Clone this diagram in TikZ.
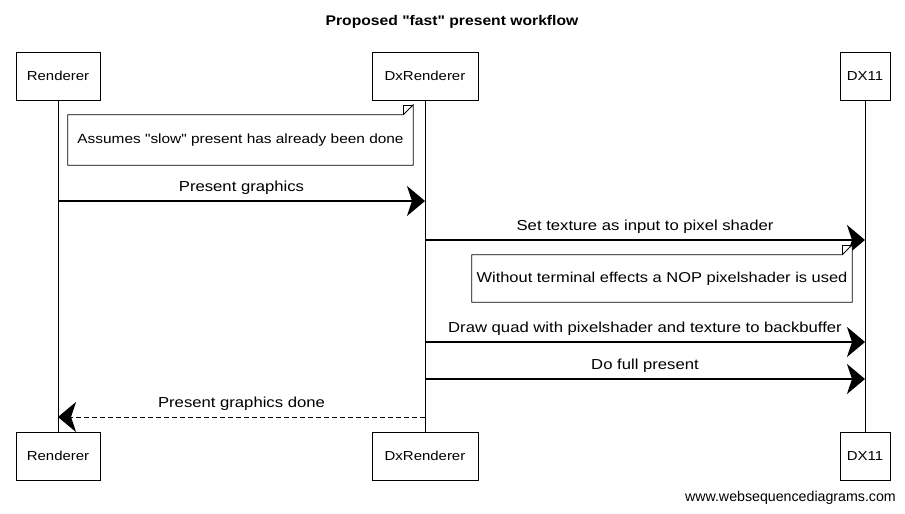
\documentclass[tikz,border=0pt]{standalone}
\usepackage{fontspec}
\setmainfont{Liberation Sans}
\newfontfamily\widefont[FakeStretch=1.15]{Liberation Sans}
\newfontfamily\titlefont[FakeStretch=1.12]{Liberation Sans}
\usetikzlibrary{arrows.meta}
\begin{document}
\begin{tikzpicture}[x=1pt,y=-1pt,
  txt/.style={font=\widefont\fontsize{14.5}{16}\selectfont},
  acttxt/.style={font=\widefont\fontsize{13}{15}\selectfont},
  actor/.style={draw, line width=0.8pt, minimum height=48pt, inner sep=0pt, acttxt},
  lifeline/.style={line width=0.6pt},
  msg/.style={line width=1.1pt, -{Stealth[length=18pt,width=30pt,inset=5pt]}},
  ret/.style={line width=0.9pt, dash pattern=on 5pt off 3pt, -{Stealth[length=18pt,width=30pt,inset=5pt]}},
  lbl/.style={txt, inner sep=0pt},
  notetxt/.style={txt, inner sep=0pt, minimum height=50pt},
  notebox/.style={line width=0.8pt, fill=white}
]
\useasboundingbox (0,0) rectangle (905,514);
\fill[white] (0,0) rectangle (905,514);

\node[font=\titlefont\bfseries\fontsize{14}{16}\selectfont] (title) at (452,22) {Proposed "fast" present workflow};

% actors
\node[actor, minimum width=84pt] (rt) at (58,76) {Renderer};
\node[actor, minimum width=106pt] (dt) at (425,76) {DxRenderer};
\node[actor, minimum width=50pt] (xt) at (865,76) {DX11};
\node[actor, minimum width=84pt] (rb) at (58,456) {Renderer};
\node[actor, minimum width=106pt] (db) at (425,456) {DxRenderer};
\node[actor, minimum width=50pt] (xb) at (865,456) {DX11};

\draw[lifeline] (rt.south) -- (rb.north);
\draw[lifeline] (dt.south) -- (db.north);
\draw[lifeline] (xt.south) -- (xb.north);

% note 1
\node[notetxt, minimum width=345pt] (n1) at (240.5,140) {};
\draw[notebox] (n1.south west) -- (n1.north west) -- ([xshift=-10pt]n1.north east) -- ([yshift=10pt]n1.north east) -- (n1.south east) -- cycle;
\draw[line width=0.6pt] ([xshift=-10pt]n1.north east) -- ([xshift=-10pt,yshift=10pt]n1.north east) -- ([yshift=10pt]n1.north east);
\node[lbl, font=\widefont\fontsize{13.4}{15}\selectfont] (n1t) at (n1.center) {Assumes "slow" present has already been done};

% message 1
\coordinate (m1a) at (rt.south |- 0,201);
\coordinate (m1b) at (dt.south |- 0,201);
\draw[msg] (m1a) -- (m1b) node[lbl, midway, above=6pt] {Present graphics};

% message 2
\coordinate (m2a) at (dt.south |- 0,240);
\coordinate (m2b) at (xt.south |- 0,240);
\draw[msg] (m2a) -- (m2b) node[lbl, midway, above=6pt] {Set texture as input to pixel shader};

% note 2
\node[notetxt, minimum width=380pt, minimum height=47pt] (n2) at (662,278.5) {};
\draw[notebox] (n2.south west) -- (n2.north west) -- ([xshift=-10pt]n2.north east) -- ([yshift=10pt]n2.north east) -- (n2.south east) -- cycle;
\draw[line width=0.6pt] ([xshift=-10pt]n2.north east) -- ([xshift=-10pt,yshift=10pt]n2.north east) -- ([yshift=10pt]n2.north east);
\node[lbl, font=\widefont\fontsize{14.3}{16}\selectfont] (n2t) at (n2.center) {Without terminal effects a NOP pixelshader is used};

% message 3
\coordinate (m3a) at (dt.south |- 0,342);
\coordinate (m3b) at (xt.south |- 0,342);
\draw[msg] (m3a) -- (m3b) node[lbl, midway, above=6pt] {Draw quad with pixelshader and texture to backbuffer};

% message 4
\coordinate (m4a) at (dt.south |- 0,379);
\coordinate (m4b) at (xt.south |- 0,379);
\draw[msg] (m4a) -- (m4b) node[lbl, midway, above=6pt] {Do full present};

% message 5 (return)
\coordinate (m5a) at (dt.south |- 0,417);
\coordinate (m5b) at (rt.south |- 0,417);
\draw[ret] (m5a) -- (m5b) node[lbl, midway, above=6pt] {Present graphics done};

\node[font=\fontsize{14.2}{16}\selectfont, anchor=east, inner sep=0pt] (foot) at (896,498) {www.websequencediagrams.com};
\end{tikzpicture}
\end{document}
